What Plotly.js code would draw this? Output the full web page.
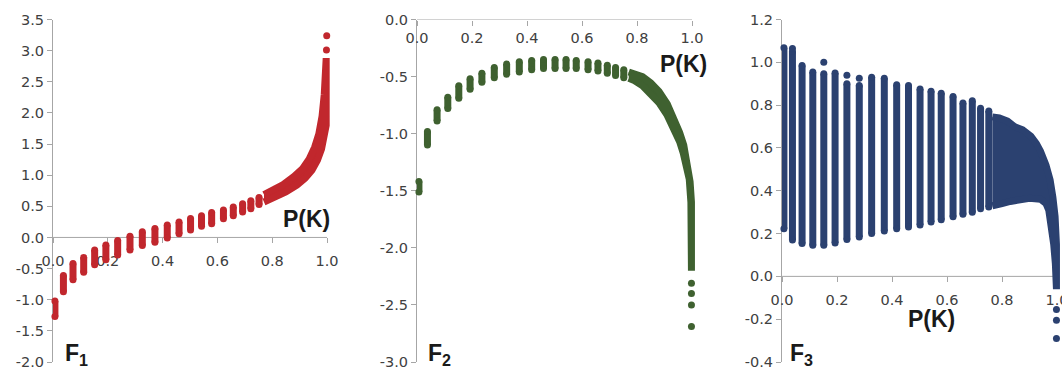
<!DOCTYPE html>
<html><head><meta charset="utf-8">
<script src="https://cdn.plot.ly/plotly-3.0.1.min.js"></script>
<style>html,body{margin:0;padding:0;background:#fff}#chart{width:1062px;height:369px}</style>
</head><body><div id="chart"></div>
<script>
// shared column positions P(K)
const pK = [0.007, 0.038, 0.073, 0.112, 0.152, 0.193, 0.236, 0.281, 0.326, 0.372, 0.417, 0.460, 0.502, 0.542, 0.579, 0.622, 0.658, 0.692, 0.722, 0.752];

// F1 columns
const f1High = [-1.02, -0.61, -0.42, -0.32, -0.20, -0.12, -0.05, 0.02, 0.09, 0.145, 0.20, 0.25, 0.305, 0.35, 0.40, 0.44, 0.49, 0.54, 0.59, 0.64];
const f1Low  = [-1.27, -0.87, -0.68, -0.56, -0.44, -0.36, -0.28, -0.20, -0.13, -0.075, -0.01, 0.06, 0.12, 0.18, 0.22, 0.30, 0.35, 0.41, 0.46, 0.53];
const f1BandUpX = [0.77, 0.80, 0.84, 0.88, 0.91, 0.935, 0.955, 0.97, 0.982, 0.99, 0.995];
const f1BandUpY = [0.69, 0.75, 0.85, 0.98, 1.10, 1.26, 1.45, 1.66, 1.95, 2.30, 2.88];
const f1BandLoX = [0.997, 0.997, 0.99, 0.98, 0.965, 0.945, 0.92, 0.89, 0.85, 0.81, 0.77];
const f1BandLoY = [2.88, 1.80, 1.60, 1.42, 1.24, 1.08, 0.95, 0.84, 0.73, 0.64, 0.57];
const f1DotX = [0.998, 0.999];
const f1DotY = [3.01, 3.24];

// F2 columns
const f2High = [-1.42, -0.98, -0.79, -0.68, -0.58, -0.52, -0.47, -0.42, -0.39, -0.37, -0.36, -0.35, -0.35, -0.35, -0.36, -0.37, -0.38, -0.40, -0.42, -0.44];
const f2Low  = [-1.51, -1.10, -0.89, -0.78, -0.69, -0.61, -0.55, -0.51, -0.48, -0.46, -0.44, -0.43, -0.43, -0.43, -0.43, -0.44, -0.45, -0.47, -0.49, -0.51];
const f2BandUpX = [0.77, 0.79, 0.82, 0.85, 0.88, 0.91, 0.935, 0.955, 0.97, 0.983, 0.993, 0.998, 0.998];
const f2BandUpY = [-0.46, -0.47, -0.50, -0.555, -0.63, -0.74, -0.86, -0.99, -1.10, -1.25, -1.42, -1.60, -2.20];
const f2BandLoX = [0.997, 0.996, 0.99, 0.98, 0.968, 0.955, 0.94, 0.91, 0.88, 0.85, 0.82, 0.79, 0.77];
const f2BandLoY = [-2.20, -1.60, -1.40, -1.28, -1.17, -1.07, -0.99, -0.84, -0.73, -0.65, -0.58, -0.535, -0.515];
const f2DotX = [0.998, 0.998, 0.998, 0.998];
const f2DotY = [-2.31, -2.40, -2.50, -2.69];

// F3 columns
const f3High = [1.068, 1.05, 0.985, 0.955, 0.947, 0.95, 0.90, 0.892, 0.93, 0.926, 0.895, 0.892, 0.875, 0.865, 0.856, 0.84, 0.81, 0.82, 0.785, 0.772];
const f3Low  = [0.223, 0.17, 0.153, 0.145, 0.145, 0.156, 0.172, 0.184, 0.20, 0.212, 0.223, 0.231, 0.24, 0.254, 0.265, 0.278, 0.29, 0.30, 0.316, 0.324];
const f3BandUpX = [0.765, 0.79, 0.82, 0.845, 0.875, 0.905, 0.925, 0.94, 0.96, 0.975, 0.985, 0.993, 0.998, 0.998];
const f3BandUpY = [0.745, 0.74, 0.725, 0.70, 0.685, 0.655, 0.62, 0.585, 0.52, 0.45, 0.37, 0.28, 0.15, -0.06];
const f3BandLoX = [0.994, 0.988, 0.98, 0.97, 0.96, 0.94, 0.90, 0.86, 0.83, 0.80, 0.765];
const f3BandLoY = [0.06, 0.15, 0.25, 0.31, 0.34, 0.36, 0.365, 0.36, 0.35, 0.34, 0.33];
const f3DotX = [0.038, 0.152, 0.236, 0.281, 0.998, 0.998, 0.998];
const f3DotY = [1.065, 1.0, 0.94, 0.925, -0.155, -0.205, -0.29];

// tick labels
const xTickVals = [0, 0.2, 0.4, 0.6, 0.8, 1.0];
const xTickText = ['0.0', '0.2', '0.4', '0.6', '0.8', '1.0'];
const y1TickVals = [-2, -1.5, -1, -0.5, 0, 0.5, 1, 1.5, 2, 2.5, 3, 3.5];
const y1TickText = ['-2.0', '-1.5', '-1.0', '-0.5', '0.0', '0.5', '1.0', '1.5', '2.0', '2.5', '3.0', '3.5'];
const y2TickVals = [-3, -2.5, -2, -1.5, -1, -0.5, 0];
const y2TickText = ['-3.0', '-2.5', '-2.0', '-1.5', '-1.0', '-0.5', '0.0'];
const y3TickVals = [-0.4, -0.2, 0, 0.2, 0.4, 0.6, 0.8, 1.0, 1.2];
const y3TickText = ['-0.4', '-0.2', '0.0', '0.2', '0.4', '0.6', '0.8', '1.0', '1.2'];

const RED = '#C1272D', GREEN = '#3F6130', BLUE = '#2B4170';
const DOT = 7;

function columnTrace(x, lo, hi, color, xa, ya) {
  const xs = [], ys = [];
  for (let i = 0; i < x.length; i++) { xs.push(x[i], x[i], null); ys.push(lo[i], hi[i], null); }
  return {type: 'scatter', mode: 'lines+markers', x: xs, y: ys, xaxis: xa, yaxis: ya,
    line: {color: color, width: DOT}, marker: {color: color, size: DOT}, cliponaxis: false, hoverinfo: 'skip'};
}
function bandTrace(ux, uy, lx, ly, color, xa, ya) {
  return {type: 'scatter', mode: 'lines', x: ux.concat(lx), y: uy.concat(ly), fill: 'toself', fillcolor: color,
    xaxis: xa, yaxis: ya, line: {color: color, width: DOT}, cliponaxis: false, hoverinfo: 'skip'};
}
function dotTrace(x, y, color, xa, ya) {
  return {type: 'scatter', mode: 'markers', x: x, y: y, xaxis: xa, yaxis: ya,
    marker: {color: color, size: DOT}, cliponaxis: false, hoverinfo: 'skip'};
}

const data = [
  columnTrace(pK, f1Low, f1High, RED, 'x', 'y'),
  bandTrace(f1BandUpX, f1BandUpY, f1BandLoX, f1BandLoY, RED, 'x', 'y'),
  dotTrace(f1DotX, f1DotY, RED, 'x', 'y'),
  columnTrace(pK, f2Low, f2High, GREEN, 'x2', 'y2'),
  bandTrace(f2BandUpX, f2BandUpY, f2BandLoX, f2BandLoY, GREEN, 'x2', 'y2'),
  dotTrace(f2DotX, f2DotY, GREEN, 'x2', 'y2'),
  columnTrace(pK, f3Low, f3High, BLUE, 'x3', 'y3'),
  bandTrace(f3BandUpX, f3BandUpY, f3BandLoX, f3BandLoY, BLUE, 'x3', 'y3'),
  dotTrace(f3DotX, f3DotY, BLUE, 'x3', 'y3')
];

const W = 1062, H = 369;
const yDom = [1 - 362 / H, 1 - 19.5 / H];
const AX = '#A6A6A6';
const XMAX = 1.015; // small room right of 1.0 so edge dots are not cut
const tickFont = {family: 'DejaVu Sans, sans-serif', size: 14.5, color: '#404040'};

function xAxis(x0px, x1px, yr, standoff) {
  const pos = yDom[0] + (0 - yr[0]) / (yr[1] - yr[0]) * (yDom[1] - yDom[0]);
  const endPx = x0px + (x1px - x0px) * XMAX;
  return {domain: [x0px / W, endPx / W], range: [0, XMAX], anchor: 'free', position: pos, side: 'bottom',
    tickvals: xTickVals, ticktext: xTickText, ticks: 'outside', ticklen: 5, tickcolor: AX,
    showline: false, showgrid: false, zeroline: false, ticklabeloverflow: 'allow',
    tickfont: tickFont, ticklabelstandoff: standoff, layer: 'below traces', fixedrange: true};
}
function yAxis(xa, yr, tv, tt) {
  return {domain: yDom, range: yr, anchor: xa, tickvals: tv, ticktext: tt, ticks: 'outside', ticklen: 5,
    tickcolor: AX, showline: true, linecolor: AX, linewidth: 1, showgrid: false, zeroline: false,
    ticklabeloverflow: 'allow', tickfont: tickFont, layer: 'below traces', fixedrange: true};
}
function axisLine(xr, yr) {
  return {type: 'line', xref: xr, yref: yr, x0: 0, x1: 1, y0: 0, y1: 0, layer: 'below',
    line: {color: AX, width: 1}};
}

const y1R = [-2, 3.5], y2R = [-3, 0], y3R = [-0.4, 1.2];
const labFont = {family: 'Liberation Sans, Arial, sans-serif', size: 23, color: '#1a1a1a'};
function ann(text, px, py, xanchor) {
  return {text: text, xref: 'paper', yref: 'paper', x: px / W, y: 1 - py / H, xanchor: xanchor, yanchor: 'middle',
    showarrow: false, font: labFont};
}

const layout = {
  width: W, height: H, margin: {l: 0, r: 0, t: 0, b: 0}, paper_bgcolor: '#fff', plot_bgcolor: 'rgba(0,0,0,0)',
  showlegend: false,
  xaxis: xAxis(53, 327, y1R, 5),
  yaxis: yAxis('x', y1R, y1TickVals, y1TickText),
  xaxis2: xAxis(417, 692, y2R, 0),
  yaxis2: yAxis('x2', y2R, y2TickVals, y2TickText),
  xaxis3: xAxis(782, 1057, y3R, 5),
  yaxis3: yAxis('x3', y3R, y3TickVals, y3TickText),
  shapes: [axisLine('x', 'y'), axisLine('x2', 'y2'), axisLine('x3', 'y3')],
  annotations: [
    ann('<b>P(K)</b>', 306, 219, 'center'),
    ann('<b>P(K)</b>', 683, 64, 'center'),
    ann('<b>P(K)</b>', 931, 319, 'center'),
    ann('<b>F<sub>1</sub></b>', 63, 354, 'left'),
    ann('<b>F<sub>2</sub></b>', 426, 354, 'left'),
    ann('<b>F<sub>3</sub></b>', 788, 354, 'left')
  ]
};

Plotly.newPlot('chart', data, layout, {displayModeBar: false, staticPlot: true});
</script>
</body></html>
